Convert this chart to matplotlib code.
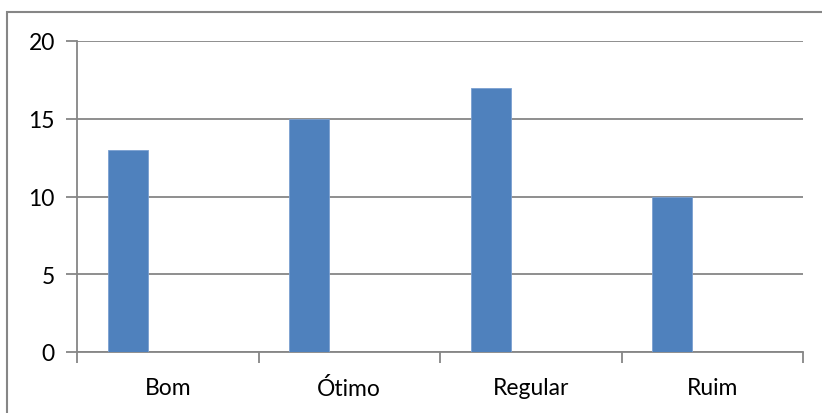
import numpy as np
import matplotlib.pyplot as plt
from matplotlib.patches import Rectangle

categories = ['Bom', 'Ótimo', 'Regular', 'Ruim']
values = [13, 15, 17, 10]
yticks = [0, 5, 10, 15, 20]

plt.rcParams['font.family'] = ['Lato', 'DejaVu Sans']

W, H = 822, 414
fig = plt.figure(figsize=(W / 100, H / 100), dpi=100)
# plot area in pixels: left 77, right 803, top 42, bottom 353
ax = fig.add_axes([77 / W, 1 - 353 / H, (803 - 77) / W, (353 - 42) / H])

grid_c = '#868686'
x = np.arange(len(categories))
# Excel-style: bar sits at the left slot of a two-series cluster
ax.bar(x + 0.28, values, width=0.22, color='#4F81BD', edgecolor='#7a9fd0', linewidth=0.6, zorder=3)

ax.set_xlim(0, len(categories))
ax.set_ylim(0, 20)
ax.set_yticks(yticks)
ax.set_yticklabels([str(t) for t in yticks], fontsize=16.5)
ax.yaxis.grid(True, color=grid_c, linewidth=1.3, zorder=0)
ax.set_axisbelow(True)

ax.set_xticks(np.arange(len(categories) + 1))
ax.set_xticklabels([])
ax.set_xticks(x + 0.5, minor=True)
ax.set_xticklabels(categories, minor=True, fontsize=16.5)
ax.tick_params(axis='x', which='major', length=8, color=grid_c, width=1.3, direction='out')
ax.tick_params(axis='x', which='minor', length=0, pad=18)
ax.tick_params(axis='y', length=8, color=grid_c, width=1.3, pad=8)

for s in ['top', 'right']:
    ax.spines[s].set_visible(False)
for s in ['left', 'bottom']:
    ax.spines[s].set_color(grid_c)
    ax.spines[s].set_linewidth(1.3)

# outer chart frame
fig.patches.append(Rectangle((7 / W, -0.1), 1.2, 1 - 13 / H + 0.1, transform=fig.transFigure,
                             fill=False, edgecolor=grid_c, linewidth=1.5))

fig.savefig('out.png', dpi=100)
